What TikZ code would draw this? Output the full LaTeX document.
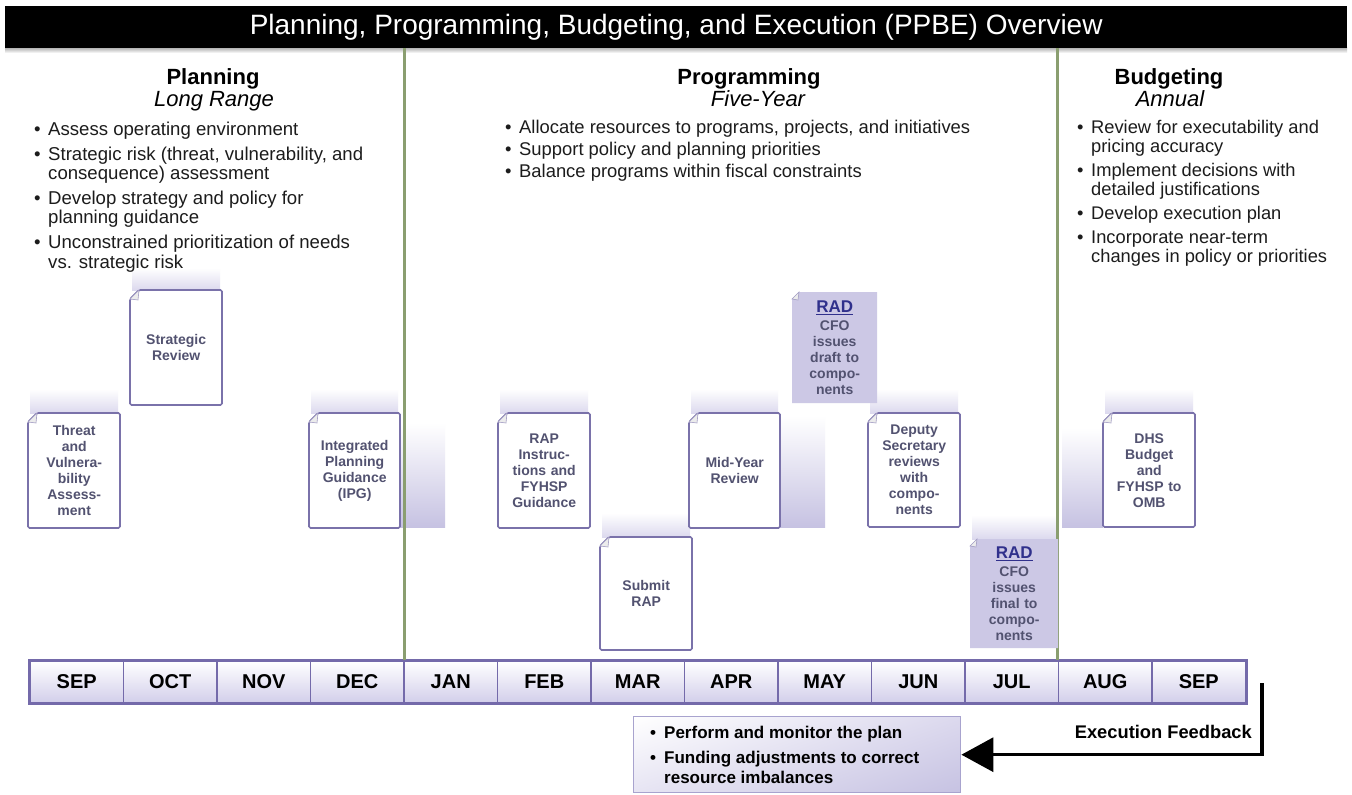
\documentclass[tikz,border=0pt]{standalone}
\usepackage{fontspec}
\setmainfont{Liberation Sans}
\usetikzlibrary{calc,arrows.meta,shadings}
\definecolor{docborder}{RGB}{122,114,170}
\definecolor{doctext}{RGB}{82,82,112}
\definecolor{lav}{RGB}{198,194,226}
\definecolor{lavlight}{RGB}{220,217,238}
\definecolor{radfill}{RGB}{204,200,229}
\definecolor{radblue}{RGB}{48,48,140}
\definecolor{sepgreen}{RGB}{138,158,112}
\definecolor{barborder}{RGB}{116,106,170}
\definecolor{cellbot}{RGB}{210,206,234}
\definecolor{bodytext}{RGB}{28,28,28}
\definecolor{fbborder}{RGB}{168,163,206}
\newcommand{\docfont}{\fontsize{14}{16}\selectfont\bfseries}
\newcommand{\bl}{\makebox[14pt][l]{\textbullet}}
\tikzset{
  docnode/.style={inner sep=0pt, align=center, font=\docfont, text=doctext, anchor=north west},
  docline/.style={draw=docborder, line width=1.6pt, fill=white, rounded corners=1.5pt},
  foldline/.style={draw=docborder!70, line width=0.6pt, fill=gray!15},
  radbox/.style={fill=radfill, draw=none},
  shadowtop/.style={top color=white, bottom color=lavlight},
  shadowside/.style={top color=white, bottom color=lav},
  heading/.style={font=\fontsize{22}{24}\selectfont\bfseries, anchor=base, inner sep=0pt},
  subheading/.style={font=\fontsize{22}{24}\selectfont\itshape, anchor=base, inner sep=0pt},
  listnode/.style={inner sep=0pt, anchor=base west, text=bodytext},
  monthcell/.style={draw=barborder, line width=1.4pt, top color=white, bottom color=cellbot,
     minimum width=93.5pt, minimum height=42pt, inner sep=0pt, font=\fontsize{20}{22}\selectfont\bfseries},
  sepline/.style={draw=sepgreen, line width=3pt},
  fbline/.style={draw=black, line width=3.4pt, -{Triangle[length=32pt,width=34pt]}},
}
\newcommand{\pdoc}[6]{%
  \filldraw[docline] ({#2+9},{#3}) -- ({#2+#4},{#3}) -- ({#2+#4},{#3+#5}) -- ({#2},{#3+#5}) -- ({#2},{#3+9}) -- cycle;
  \filldraw[foldline] ({#2},{#3+9}) -- ({#2+9},{#3}) -- ({#2+8},{#3+10}) -- cycle;
  \node[docnode, text width=#4pt, minimum height=#5pt] (#1) at (#2,#3) {#6};
}
\newcommand{\prad}[6]{%
  \fill[radbox] ({#2+7},{#3}) -- ({#2+#4},{#3}) -- ({#2+#4},{#3+#5}) -- ({#2},{#3+#5}) -- ({#2},{#3+7}) -- cycle;
  \filldraw[foldline] ({#2},{#3+7}) -- ({#2+7},{#3}) -- ({#2+6},{#3+8}) -- cycle;
  \node[docnode, text width=#4pt, minimum height=#5pt] (#1) at (#2,#3)
    {{\fontsize{17}{18}\selectfont\color{radblue}\underline{RAD}}\\[2pt]CFO\\issues\\#6\\compo-\\nents};
}
\begin{document}
\begin{tikzpicture}[x=1pt,y=-1pt]
\useasboundingbox (0,0) rectangle (1352,795);
\fill[white] (0,0) rectangle (1352,795);
% shadows
\shade[shadowtop] (30,389) rectangle (118,413);
\shade[shadowtop] (132,268) rectangle (220,290);
\shade[shadowtop] (311,389) rectangle (398,413);
\shade[shadowtop] (500,389) rectangle (588,413);
\shade[shadowtop] (602,513) rectangle (690,537);
\shade[shadowtop] (691,389) rectangle (778,413);
\shade[shadowtop] (870,389) rectangle (958,413);
\shade[shadowtop] (1105,389) rectangle (1193,413);
\shade[shadowtop] (972,515) rectangle (1058,539);
\shade[shadowside] (400,423) rectangle (445,527);
\shade[shadowside] (780,416) rectangle (825,527);
\shade[shadowside] (1062,428) rectangle (1103,527);
% title
\shade[top color=gray!70, bottom color=white] (5,47) rectangle (1347,53);
\node[fill=black, text=white, minimum width=1342pt, minimum height=42pt, inner sep=0pt, anchor=north west,
  font=\fontsize{28}{30}\selectfont] (title) at (5,6) {Planning, Programming, Budgeting, and Execution (PPBE) Overview};
% headings
\node[heading] (planh) at (213,84) {Planning};
\node[subheading] (planr) at (214,106) {Long Range};
\node[heading] (progh) at (749,84) {Programming};
\node[subheading] (progr) at (758,106) {Five-Year};
\node[heading] (budh) at (1169,84) {Budgeting};
\node[subheading] (budr) at (1170,106) {Annual};
% lists
\node[listnode, font=\fontsize{18.6}{19}\selectfont] (planlist) at (34,135)
 {\begin{tabular}[t]{@{}l@{}l@{}}
  \bl & Assess operating environment\\[6pt]
  \bl & Strategic risk (threat, vulnerability, and\\
      & consequence) assessment\\[6pt]
  \bl & Develop strategy and policy for\\
      & planning guidance\\[6pt]
  \bl & Unconstrained prioritization of needs\\
      & vs. strategic risk
  \end{tabular}};
\node[listnode, font=\fontsize{18.4}{19}\selectfont] (proglist) at (505,133)
 {\begin{tabular}[t]{@{}l@{}l@{}}
  \bl & Allocate resources to programs, projects, and initiatives\\[3pt]
  \bl & Support policy and planning priorities\\[3pt]
  \bl & Balance programs within fiscal constraints
  \end{tabular}};
\node[listnode, font=\fontsize{18.3}{19}\selectfont] (budlist) at (1077,133)
 {\begin{tabular}[t]{@{}l@{}l@{}}
  \bl & Review for executability and\\
      & pricing accuracy\\[5pt]
  \bl & Implement decisions with\\
      & detailed justifications\\[5pt]
  \bl & Develop execution plan\\[5pt]
  \bl & Incorporate near-term\\
      & changes in policy or priorities
  \end{tabular}};
% months
\foreach \m [count=\i] in {SEP,OCT,NOV,DEC,JAN,FEB,MAR,APR,MAY,JUN,JUL,AUG,SEP} {
  \node[monthcell] (m\i) at ({30+93.5*(\i-0.5)},682) {\m};
}
\draw[barborder, line width=3pt] (m1.north west) rectangle (m13.south east);
% phase separators
\draw[sepline] (m4.north east |- title.south) -- (m4.north east);
\draw[sepline] (m12.north west |- title.south) -- (m12.north west);
% documents
\pdoc{threat}{28}{413}{92}{115}{Threat\\and\\Vulnera-\\bility\\Assess-\\ment}
\pdoc{strat}{130}{290}{92}{115}{Strategic\\Review}
\pdoc{ipg}{309}{413}{91}{115}{Integrated\\Planning\\Guidance\\(IPG)}
\pdoc{rapi}{498}{413}{92}{115}{RAP\\Instruc-\\tions and\\FYHSP\\Guidance}
\pdoc{submit}{600}{537}{92}{113}{Submit\\RAP}
\pdoc{midyear}{689}{413}{91}{115}{Mid-Year\\Review}
\pdoc{deputy}{868}{413}{92}{114}{Deputy\\Secretary\\reviews\\with\\compo-\\nents}
\pdoc{dhs}{1103}{413}{92}{114}{DHS\\Budget\\and\\FYHSP to\\OMB}
\prad{raddraft}{792}{292}{85}{111}{draft to}
\prad{radfinal}{970}{539}{88}{109}{final to}
% execution feedback
\node[draw=fbborder, line width=1.4pt, upper left=white, upper right=lavlight, lower left=lavlight!70, lower right=lav,
  minimum width=327pt, minimum height=76pt, inner sep=0pt, anchor=north west] (fb) at (633,716) {};
\node[listnode, font=\fontsize{17}{20}\selectfont\bfseries, text=black] (fbtext) at (650,738)
 {\begin{tabular}[t]{@{}l@{}l@{}}
  \bl & Perform and monitor the plan\\[5pt]
  \bl & Funding adjustments to correct\\
      & resource imbalances
  \end{tabular}};
\coordinate (fbstart) at (1262,683);
\draw[fbline] (fbstart) |- (fb.east);
\node[font=\fontsize{18.3}{20}\selectfont\bfseries, anchor=base east, inner sep=0pt] (fblabel) at (1252,738) {Execution Feedback};
\end{tikzpicture}
\end{document}
